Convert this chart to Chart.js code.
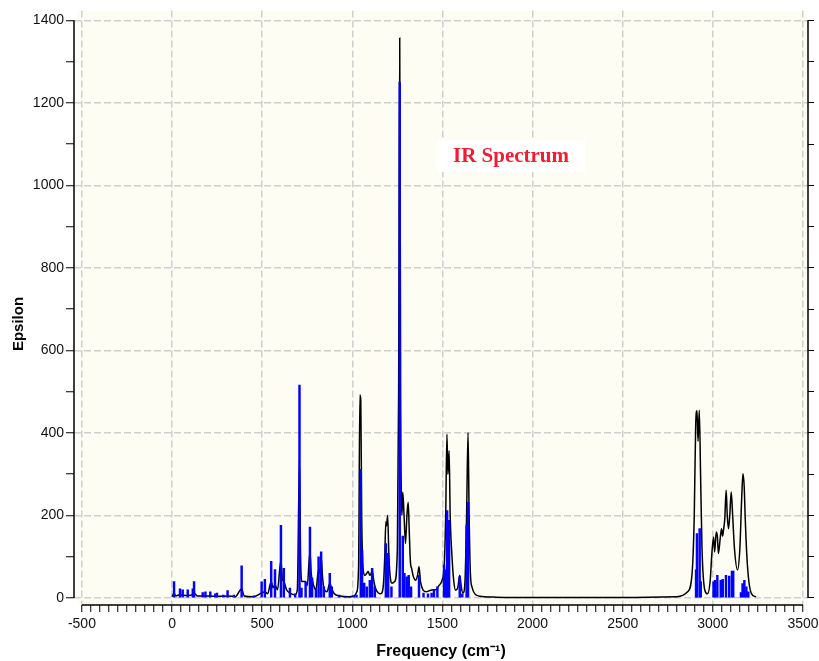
<!DOCTYPE html>
<html>
<head>
<meta charset="utf-8">
<title>IR Spectrum</title>
<script src="https://cdn.jsdelivr.net/npm/chart.js@4.4.1/dist/chart.umd.min.js"></script>
<style>
  html, body { margin: 0; padding: 0; background: #fff; }
  #wrap { width: 819px; height: 661px; position: relative; }
</style>
</head>
<body>
<div id="wrap"><canvas id="irChart"></canvas></div>
<script>
// Líneas de frecuencia calculadas (barras azules)
const stickFreq = [11, 44, 59, 87, 115, 122, 170, 185, 212, 240, 249, 284, 308, 343, 386, 454,
  497, 515, 550, 571, 604, 620, 654, 683, 707, 718, 741, 765, 777, 798, 813, 827, 842, 875, 886,
  927, 960, 985, 1008, 1023, 1047, 1054, 1066, 1080, 1097, 1110, 1125, 1186, 1199, 1217, 1263,
  1280, 1289, 1302, 1313, 1326, 1370, 1395, 1420, 1440, 1453, 1472, 1509, 1520, 1526, 1537,
  1596, 1610, 1634, 1642, 2907, 2912, 2927, 2933, 3004, 3012, 3025, 3044, 3055, 3073, 3091,
  3106, 3113, 3156, 3165, 3175, 3186, 3197];
const stickEps = [40, 22, 20, 20, 22, 40, 13, 15, 15, 10, 12, 7, 18, 7, 78, 5,
  39, 45, 89, 69, 176, 72, 24, 10, 516, 24, 38, 172, 48, 22, 100, 112, 27, 60, 27,
  7, 3, 3, 5, 7, 312, 116, 36, 27, 43, 72, 27, 132, 108, 27, 1250,
  150, 60, 51, 55, 27, 55, 12, 10, 12, 19, 27, 80, 68, 212, 188,
  51, 10, 176, 232, 68, 156, 168, 40, 39, 43, 55, 43, 45, 55, 53,
  65, 65, 13, 35, 43, 27, 15];

// Espectro ensanchado (curva negra), leído punto a punto
const curveFreq = [0, 11, 20, 44, 59, 87, 115, 122, 140, 170, 185, 212, 249, 308, 350, 386, 400,
  450, 497, 515, 530, 550, 560, 571, 585, 604, 612, 620, 635, 654, 683, 695, 707, 713, 720,
  741, 750, 765, 772, 777, 790, 798, 813, 820, 827, 835, 842, 860, 875, 886, 900, 930, 980,
  1010, 1025, 1035, 1042, 1047, 1052, 1060, 1070, 1080, 1088, 1097, 1105, 1110, 1118, 1128,
  1145, 1158, 1172, 1180, 1186, 1190, 1196, 1203, 1212, 1220, 1235, 1250, 1257, 1263, 1268,
  1275, 1280, 1287, 1295, 1303, 1310, 1316, 1322, 1330, 1340, 1350, 1362, 1370, 1378, 1393,
  1410, 1430, 1450, 1466, 1480, 1498, 1510, 1518, 1525, 1530, 1537, 1543, 1553, 1563, 1573,
  1585, 1596, 1605, 1614, 1625, 1634, 1642, 1648, 1655, 1665, 1680, 1700, 1800, 2000, 2500,
  2800, 2860, 2885, 2897, 2905, 2912, 2918, 2925, 2932, 2940, 2955, 2970, 2985, 2995, 3004,
  3010, 3019, 3025, 3031, 3040, 3048, 3054, 3059, 3066, 3074, 3080, 3087, 3094, 3102, 3110,
  3120, 3137, 3150, 3160, 3167, 3174, 3180, 3189, 3200, 3215, 3240];
const curveEps = [3, 12, 5, 8, 7, 6, 8, 12, 5, 5, 5, 5, 4, 5, 3, 22, 5,
  3, 12, 15, 10, 40, 25, 32, 20, 92, 45, 40, 20, 12, 8, 20, 335, 100, 40,
  40, 30, 112, 60, 45, 25, 20, 70, 60, 100, 50, 25, 15, 36, 22, 10, 5, 3,
  5, 15, 80, 492, 480, 200, 70, 55, 60, 64, 55, 60, 68, 45, 24,
  12, 10, 30, 100, 185, 175, 200, 100, 45, 36, 40, 120, 500, 1357, 500,
  200, 257, 200, 132, 200, 232, 160, 90, 70, 50, 43, 55, 76, 40, 19,
  15, 18, 20, 20, 30, 43, 80, 200, 397, 300, 357, 200, 100, 40, 19,
  25, 55, 25, 12, 40, 200, 401, 200, 60, 25, 10, 5, 2, 1, 1,
  3, 15, 60, 200, 420, 454, 380, 455, 300, 120, 20, 10, 40, 110, 148,
  112, 160, 150, 108, 140, 168, 150, 164, 190, 261, 200, 168, 200, 257, 200,
  120, 68, 120, 240, 301, 270, 190, 100, 40, 10, 3];

// Marcas de los ejes
const xMajorTicks = [-500, 0, 500, 1000, 1500, 2000, 2500, 3000, 3500];
const yMajorTicks = [0, 200, 400, 600, 800, 1000, 1200, 1400];

const xAllTicks = [];
for (let v = -500; v <= 3500; v += 50) xAllTicks.push(v);
const yAllTicks = [];
for (let v = 0; v <= 1400; v += 100) yAllTicks.push(v);

const gridGray = '#cfcfcf';
const tickFont = { family: "'Liberation Sans', Arial, sans-serif", size: 14 };

const framePlugin = {
    id: 'frame',
    beforeDraw(chart) {
        const { ctx, chartArea } = chart;
        ctx.save();
        ctx.fillStyle = '#ffffff';
        ctx.fillRect(0, 0, chart.width, chart.height);
        ctx.fillStyle = '#fdfdf3';
        ctx.fillRect(chartArea.left + 3, chartArea.top, chartArea.right - chartArea.left - 3, chartArea.bottom - chartArea.top);
        ctx.restore();
    },
    afterDraw(chart) {
        const { ctx, chartArea } = chart;
        const xs = chart.scales.x;
        const ys = chart.scales.y;
        const yTop = ys.getPixelForValue(1400);
        const yBot = ys.getPixelForValue(0);
        ctx.save();
        ctx.strokeStyle = '#000';
        ctx.lineWidth = 1.5;
        ctx.beginPath();
        // eje izquierdo y derecho
        ctx.moveTo(chartArea.left, yTop);
        ctx.lineTo(chartArea.left, yBot);
        ctx.moveTo(chartArea.right, yTop);
        ctx.lineTo(chartArea.right, yBot);
        // eje inferior
        ctx.moveTo(xs.getPixelForValue(-500), chartArea.bottom);
        ctx.lineTo(xs.getPixelForValue(3500), chartArea.bottom);
        ctx.stroke();

        // Título del eje Y
        ctx.translate(19, 324);
        ctx.rotate(-Math.PI / 2);
        ctx.fillStyle = '#000';
        ctx.font = "bold 15px 'Liberation Sans', Arial, sans-serif";
        ctx.textAlign = 'center';
        ctx.textBaseline = 'middle';
        ctx.fillText('Epsilon', 0, 0);
        ctx.restore();

        // Recuadro con el título
        ctx.save();
        ctx.fillStyle = '#ffffff';
        ctx.fillRect(437, 140, 148, 32);
        ctx.fillStyle = '#f01e32';
        ctx.font = "bold 21px 'Liberation Serif', 'Times New Roman', serif";
        ctx.textAlign = 'center';
        ctx.textBaseline = 'middle';
        ctx.fillText('IR Spectrum', 511, 157);
        ctx.restore();
    }
};

const ctx = document.getElementById('irChart').getContext('2d');
new Chart(ctx, {
    type: 'bar',
    data: {
        datasets: [{
            type: 'bar',
            label: 'Sticks',
            data: stickFreq.map((f, i) => ({ x: f, y: stickEps[i] })),
            backgroundColor: '#0000ff',
            borderWidth: 0,
            barThickness: 1.8,
            grouped: false,
            order: 0
        }, {
            type: 'line',
            label: 'Spectrum',
            data: curveFreq.map((f, i) => ({ x: f, y: curveEps[i] })),
            borderColor: '#000000',
            borderWidth: 1.5,
            pointRadius: 0,
            fill: false,
            cubicInterpolationMode: 'monotone',
            order: 1
        }]
    },
    options: {
        responsive: true,
        maintainAspectRatio: false,
        animation: false,
        layout: { padding: { top: 8, left: 0, right: 0, bottom: 0 } },
        plugins: {
            legend: { display: false },
            tooltip: { enabled: false }
        },
        scales: {
            x: {
                type: 'linear',
                min: -544,
                max: 3528,
                offset: false,
                afterBuildTicks: s => { s.ticks = xAllTicks.map(v => ({ value: v })); },
                afterFit: s => {
                    s.height = 56;
                    // sin relleno extra por la etiqueta "3500"
                    s.paddingLeft = 0;
                    s.paddingRight = 0;
                },
                ticks: {
                    autoSkip: false,
                    maxRotation: 0,
                    color: '#111',
                    font: tickFont,
                    padding: 4,
                    callback: v => xMajorTicks.includes(v) ? String(v) : ''
                },
                grid: {
                    offset: false,
                    color: c => (c.tick && c.tick.value % 500 === 0) ? gridGray : 'rgba(0,0,0,0)',
                    lineWidth: 1.5,
                    tickColor: '#000',
                    tickLength: 7,
                    tickWidth: 1
                },
                border: { display: false, dash: [7, 3] },
                title: {
                    display: true,
                    text: 'Frequency (cm⁻¹)',
                    color: '#000',
                    font: { family: "'Liberation Sans', Arial, sans-serif", size: 16, weight: 'bold' },
                    padding: { top: 0, bottom: 0 }
                }
            },
            y: {
                type: 'linear',
                position: 'left',
                min: -17,
                max: 1424,
                afterBuildTicks: s => { s.ticks = yAllTicks.map(v => ({ value: v })); },
                afterFit: s => { s.width = 74; },
                ticks: {
                    autoSkip: false,
                    color: '#111',
                    font: tickFont,
                    padding: 2,
                    callback: v => yMajorTicks.includes(v) ? String(v) : ''
                },
                grid: {
                    color: c => (c.tick && c.tick.value % 200 === 0) ? gridGray : 'rgba(0,0,0,0)',
                    lineWidth: 1.5,
                    tickColor: '#000',
                    tickLength: 8,
                    tickWidth: 1
                },
                border: { display: false, dash: [7, 3] }
            },
            y2: {
                type: 'linear',
                position: 'right',
                min: -17,
                max: 1424,
                afterBuildTicks: s => { s.ticks = yAllTicks.map(v => ({ value: v })); },
                afterFit: s => { s.width = 11; },
                ticks: { display: false },
                grid: {
                    drawOnChartArea: false,
                    tickColor: '#000',
                    tickLength: 6,
                    tickWidth: 1
                },
                border: { display: false }
            }
        }
    },
    plugins: [framePlugin]
});
</script>
</body>
</html>
